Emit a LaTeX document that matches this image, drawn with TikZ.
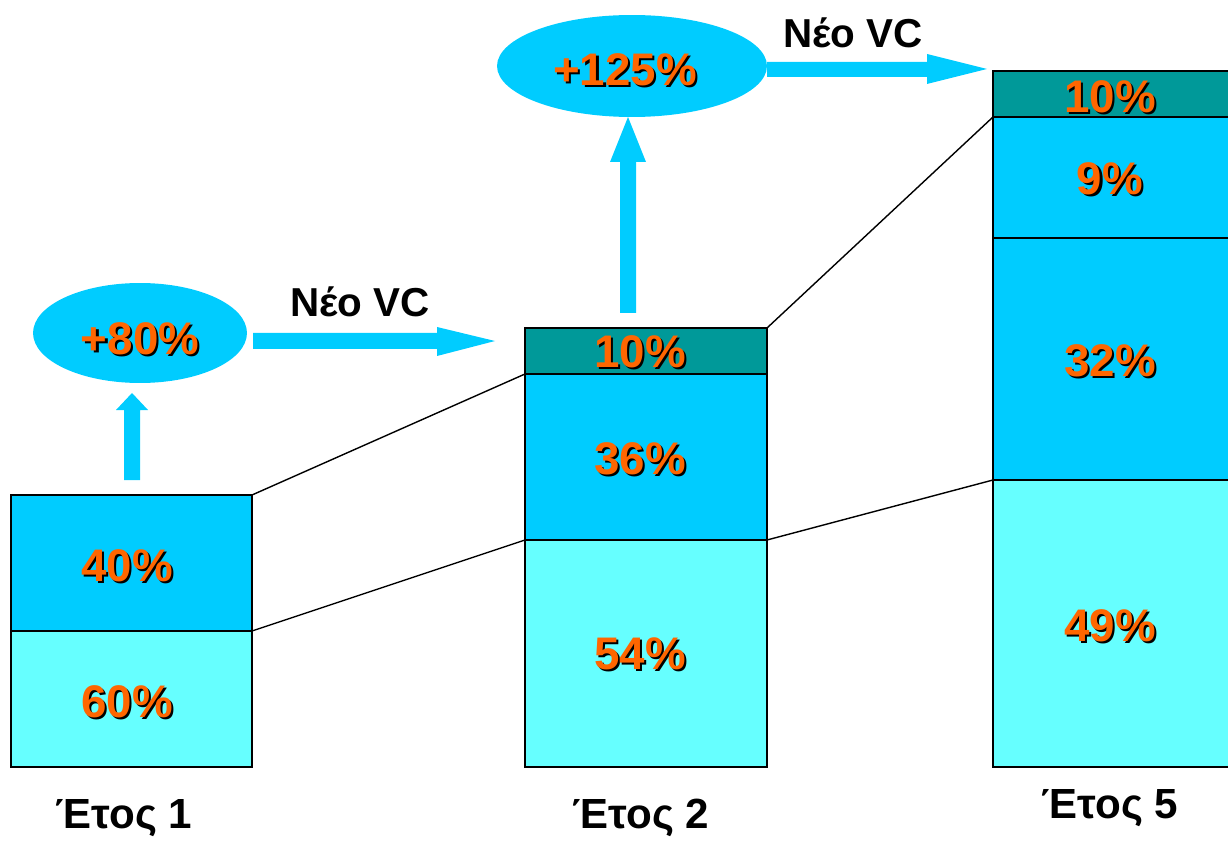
\documentclass[tikz,border=0pt]{standalone}
\usepackage{fontspec}
\setmainfont{Liberation Sans}
\usetikzlibrary{shapes.geometric}

\definecolor{segTop}{HTML}{009999}
\definecolor{segMid}{HTML}{00CCFF}
\definecolor{segLow}{HTML}{66FFFF}
\definecolor{pctOrange}{HTML}{FF6600}
\definecolor{flowBlue}{HTML}{00CCFF}

% orange figures with a small black drop shadow
\newcommand\shadowed[1]{\makebox[0pt][l]{\hspace{1.2pt}\raisebox{-1.2pt}{\textcolor{black}{#1}}}\textcolor{pctOrange}{#1}}

\tikzset{
  seg/.style={draw=black, line width=1.1pt},
  pct/.style={font=\fontsize{26}{30}\bfseries\selectfont, inner sep=0pt},
  yearlbl/.style={font=\fontsize{24}{28}\bfseries\selectfont, inner sep=0pt},
  vclbl/.style={font=\fontsize{23}{27}\bfseries\selectfont, inner sep=0pt},
  blob/.style={ellipse, fill=flowBlue, inner sep=0pt},
  flow/.style={fill=flowBlue, draw=none},
  link/.style={draw=black, line width=0.8pt},
}

\begin{document}
\begin{tikzpicture}[x=0.02cm, y=-0.02cm]
\useasboundingbox (0,0) rectangle (1228,841);

% ---- Year 1 column
\draw[seg, fill=segLow] (11,631) rectangle (252,767);
\draw[seg, fill=segMid] (11,495) rectangle (252,631);
\coordinate (b1top) at (252,495);
\coordinate (b1mid) at (252,631);
\node[pct] (p40) at (127,567) {\shadowed{40\%}};
\node[pct] (p60) at (127,703) {\shadowed{60\%}};
\node[yearlbl] (y1) at (124,818) {Έτος 1};

% ---- Year 2 column
\draw[seg, fill=segLow] (525,540) rectangle (767,767);
\draw[seg, fill=segMid] (525,374) rectangle (767,540);
\draw[seg, fill=segTop] (525,328) rectangle (767,374);
\coordinate (b2topL) at (525,374);
\coordinate (b2midL) at (525,540);
\coordinate (b2topR) at (767,328);
\coordinate (b2midR) at (767,540);
\node[pct] (p10a) at (640,353) {\shadowed{10\%}};
\node[pct] (p36) at (640,460) {\shadowed{36\%}};
\node[pct] (p54) at (640,655) {\shadowed{54\%}};
\node[yearlbl] (y2) at (641,818) {Έτος 2};

% ---- Year 5 column
\draw[seg, fill=segLow] (993,480) rectangle (1231,767);
\draw[seg, fill=segMid] (993,238) rectangle (1231,480);
\draw[seg, fill=segMid] (993,117) rectangle (1231,238);
\draw[seg, fill=segTop] (993,71) rectangle (1231,117);
\coordinate (b3top) at (993,117);
\coordinate (b3mid) at (993,480);
\node[pct] (p10b) at (1110,98) {\shadowed{10\%}};
\node[pct] (p9) at (1110,180) {\shadowed{9\%}};
\node[pct] (p32) at (1110,362) {\shadowed{32\%}};
\node[pct] (p49) at (1110,627) {\shadowed{49\%}};
\node[yearlbl] (y5) at (1110,808) {Έτος 5};

% ---- links between columns
\draw[link] (b1top) -- (b2topL);
\draw[link] (b1mid) -- (b2midL);
\draw[link] (b2topR) -- (b3top);
\draw[link] (b2midR) -- (b3mid);

% ---- growth bubbles
\node[blob, minimum width=4.28cm, minimum height=2.0cm] (g80) at (140,333) {};
\node[pct] (g80t) at (140,340) {\shadowed{+80\%}};
\node[blob, minimum width=5.4cm, minimum height=2.04cm] (g125) at (632,66) {};
\node[pct] (g125t) at (625,71) {\shadowed{+125\%}};

% ---- block arrows
% up from year 1 to +80%
\fill[flow] (124,480) -- (124,410) -- (116,410) -- (132,393) -- (148,410) -- (140,410) -- (140,480) -- cycle;
% up from year 2 to +125%
\fill[flow] (620,313) -- (620,162) -- (610,162) -- (628,117) -- (646,162) -- (636,162) -- (636,313) -- cycle;
% +80% towards year 2
\fill[flow] (253,333) -- (437,333) -- (437,327) -- (495,341) -- (437,356) -- (437,349) -- (253,349) -- cycle;
% +125% towards year 5
\fill[flow] (767,62) -- (927,62) -- (927,54) -- (987,69) -- (927,84) -- (927,77) -- (767,77) -- cycle;

\node[vclbl] (vc1) at (360,302) {Νέο VC};
\node[vclbl] (vc2) at (853,33) {Νέο VC};
\end{tikzpicture}
\end{document}
